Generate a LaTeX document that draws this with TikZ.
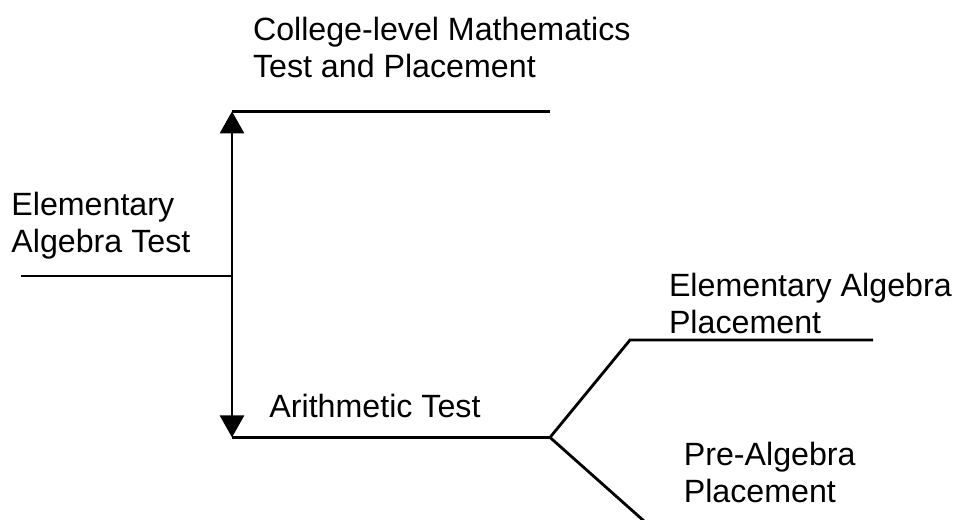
\documentclass[tikz,border=0pt]{standalone}
\usepackage{fontspec}
\setmainfont{Liberation Sans}
\usetikzlibrary{arrows.meta}
\tikzset{lbl/.style={anchor=base west,inner sep=0pt,align=left,
  font=\fontsize{22.9}{26}\selectfont}}

\begin{document}
\begin{tikzpicture}[line width=2pt,
  tip/.style={-{Triangle[length=0.55cm,width=0.6cm]}}]
\useasboundingbox (0,0) rectangle (23.85,12.975);
% junctions of the placement tree
\coordinate (start) at (0.525,6.075);
\coordinate (mid) at (5.8,6.075);
\coordinate (up) at (5.8,10.19);
\coordinate (down) at (5.8,2.04);
\coordinate (upend) at (13.75,10.19);
\coordinate (fork) at (13.75,2.04);
\coordinate (bend) at (15.75,4.475);
\coordinate (eaend) at (21.825,4.475);
\coordinate (paend) at (16.1,-0.05);
\draw (start)--(mid);
\draw[tip] (mid)--(up);
\draw[tip] (mid)--(down);
\draw (up)--(upend);
\draw (down)--(fork)--(bend)--(eaend);
\draw (fork)--(paend);
% labels (base = last line)
\node[lbl] (college) at (6.29,11.05) {College-level Mathematics\\Test and Placement};
\node[lbl] (elemtest) at (0.25,6.675) {Elementary\\Algebra Test};
\node[lbl] (arith) at (6.7,2.55) {Arithmetic Test};
\node[lbl] (elemplace) at (16.69,4.65) {Elementary Algebra\\Placement};
\node[lbl] (preplace) at (17.06,0.425) {Pre-Algebra\\Placement};
\end{tikzpicture}
\end{document}
